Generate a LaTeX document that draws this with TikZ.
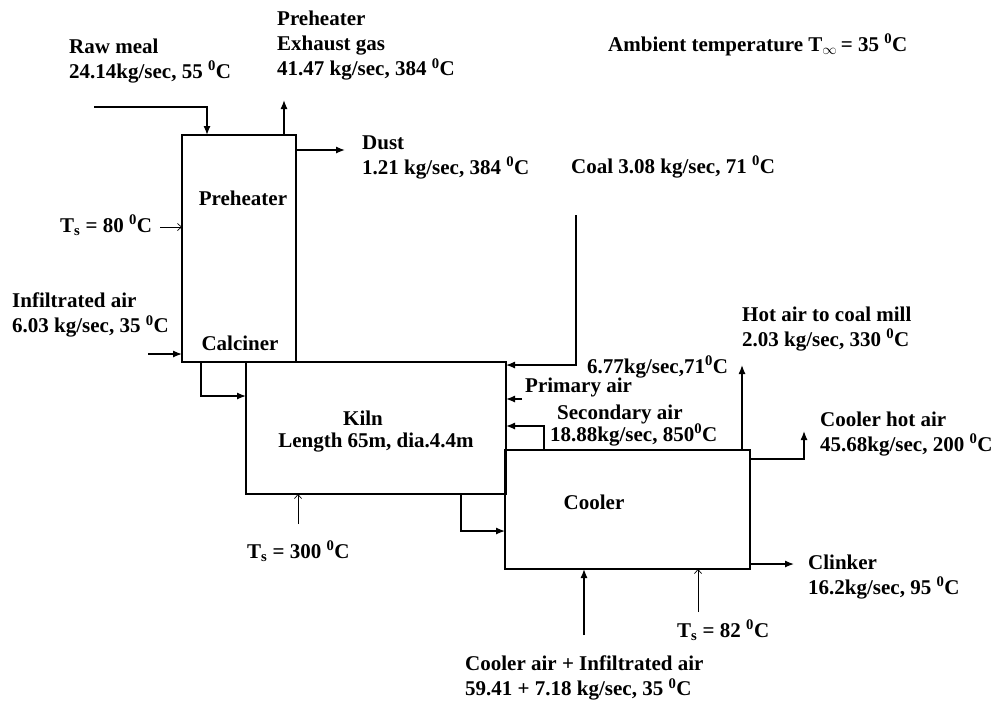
\documentclass[tikz,border=0pt]{standalone}
\usepackage{fontspec}
\setmainfont{Liberation Serif}
\usetikzlibrary{arrows.meta,calc}
\tikzset{
  box/.style={draw, line width=1.4pt, rectangle, inner sep=0pt, outer sep=0pt},
  lbl/.style={font=\bfseries\fontsize{21}{25}\selectfont, inner sep=0pt, align=left, anchor=west},
  clbl/.style={font=\bfseries\fontsize{21}{25}\selectfont, inner sep=0pt, align=center},
  arr/.style={line width=1.3pt, -{Latex[length=9pt,width=7pt]}},
  thinarr/.style={line width=0.7pt, -{Straight Barb[length=4pt,width=7pt]}}
}
\newcommand{\degc}{\textsuperscript{0}C}
\newcommand{\Tsub}{T\textsubscript{s}}
\begin{document}
\begin{tikzpicture}[x=1pt,y=-1pt]
\fill[white] (0,0) rectangle (1000,702);
\useasboundingbox (0,0) rectangle (1000,702);

% boxes
\node[box, minimum width=114pt, minimum height=227pt] (pre) at (239,248.5) {};
\node[box, minimum width=260pt, minimum height=132pt] (kiln) at (376,428) {};
\node[box, minimum width=245pt, minimum height=119pt] (cooler) at (627.5,509.5) {};

% box labels
\node[clbl] (prelbl) at (243,198) {Preheater};
\node[clbl] (calclbl) at (240,343) {Calciner};
\node[clbl] (kilnlbl) at (363,418) {Kiln};
\node[clbl] (kilnlbl2) at (376,443) {Length 65m, dia.4.4m};
\node[clbl] (coollbl) at (594,502) {Cooler};

% text labels
\node[lbl] (raw) at (69,61) {Raw meal\\24.14kg/sec, 55 \degc};
\node[lbl] (exh) at (277,46) {Preheater\\Exhaust gas\\41.47 kg/sec, 384 \degc};
\node[lbl] (amb) at (608,45) {Ambient temperature T$_{\infty}$\,= 35 \degc};
\node[lbl] (dust) at (362,157) {Dust\\1.21 kg/sec, 384 \degc};
\node[lbl] (coal) at (571,167) {Coal 3.08 kg/sec, 71 \degc};
\node[lbl] (ts80) at (60,225) {\Tsub{} = 80 \degc};
\node[lbl] (infil) at (12,315) {Infiltrated air\\6.03 kg/sec, 35 \degc};
\node[lbl] (prim1) at (587,367) {6.77kg/sec,71\degc};
\node[lbl] (prim2) at (525,387) {Primary air};
\node[lbl] (sec1) at (557,414) {Secondary air};
\node[lbl] (sec2) at (550,435) {18.88kg/sec, 850\degc};
\node[lbl] (hac) at (742,329) {Hot air to coal mill\\2.03 kg/sec, 330 \degc};
\node[lbl] (cha) at (820,434) {Cooler hot air\\45.68kg/sec, 200 \degc};
\node[lbl] (clk) at (808,577) {Clinker\\16.2kg/sec, 95 \degc};
\node[lbl] (ts300) at (247,551) {\Tsub{} = 300 \degc};
\node[lbl] (ts82) at (677,630) {\Tsub{} = 82 \degc};
\node[lbl] (cair) at (465,678) {Cooler air + Infiltrated air\\59.41 + 7.18 kg/sec, 35 \degc};

% coordinates
\coordinate (rawS) at (94,107);
\coordinate (rawX) at (207,135);
\coordinate (exhT) at (284,100);
\coordinate (dustT) at (345,150);
\coordinate (ts80S) at (160,227);
\coordinate (infS) at (148,354);
\coordinate (calS) at (201,362);
\coordinate (calY) at (0,396);
\coordinate (ts300S) at (298,524);
\coordinate (kcX) at (461,531);
\coordinate (coalT) at (576,215);
\coordinate (coalY) at (0,365);
\coordinate (primS) at (522,399);
\coordinate (secX) at (544,426);
\coordinate (hacT) at (742,365);
\coordinate (chaT) at (804,431);
\coordinate (chaY) at (0,459);
\coordinate (clkT) at (794,564);
\coordinate (caS) at (584,635);
\coordinate (ts82S) at (698,612);

% connectors
\draw[arr] (rawS) -| (pre.north -| rawX);
\draw[arr] (pre.north -| exhT) -- (exhT);
\draw[arr] (pre.east |- dustT) -- (dustT);
\draw[thinarr] (ts80S) -- (pre.west |- ts80S);
\draw[arr] (infS) -- (pre.west |- infS);
\draw[arr] (pre.south -| calS) |- (kiln.west |- calY);
\draw[thinarr] (ts300S) -- (kiln.south -| ts300S);
\draw[arr] (kiln.south -| kcX) |- (cooler.west |- kcX);
\draw[arr, line width=1.2pt] (coalT) |- (kiln.east |- coalY);
\draw[arr] (primS) -- (kiln.east |- primS);
\draw[arr] (cooler.north -| secX) |- (kiln.east |- secX);
\draw[arr] (cooler.north -| hacT) -- (hacT);
\draw[arr] (cooler.east |- chaY) -| (chaT);
\draw[arr] (cooler.east |- clkT) -- (clkT);
\draw[arr] (caS) -- (cooler.south -| caS);
\draw[thinarr] (ts82S) -- (cooler.south -| ts82S);
\end{tikzpicture}
\end{document}
